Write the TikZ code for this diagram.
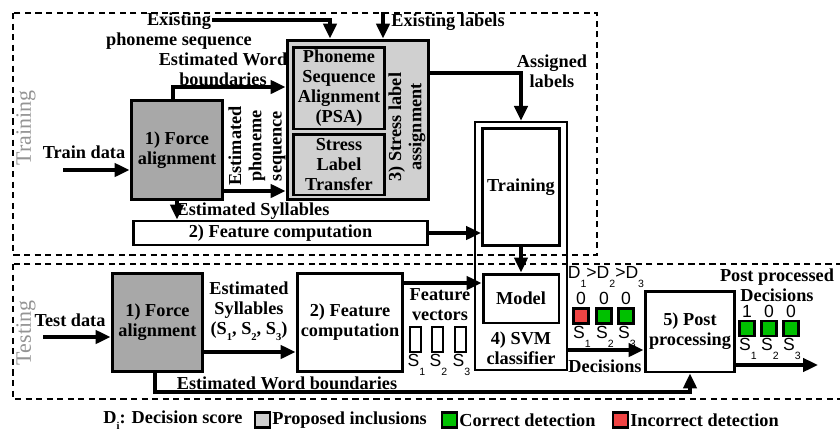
\documentclass[tikz,border=0pt]{standalone}
\usepackage{fontspec}
\setmainfont{Liberation Serif}
\newfontfamily\lsans{Liberation Sans}
\usetikzlibrary{positioning,arrows.meta}
\definecolor{forceGray}{HTML}{A8A8A8}
\definecolor{stressGray}{HTML}{D0D0D0}
\definecolor{okGreen}{HTML}{00C000}
\definecolor{badRed}{HTML}{F04444}
\newcommand{\lowsub}[2]{#1\raisebox{-0.7ex}{\fontsize{6}{6}\selectfont #2}}
\newcommand{\sanssub}[2]{{\lsans\mdseries #1\raisebox{-0.9ex}{\fontsize{6}{6}\selectfont #2}}}

\begin{document}
\begin{tikzpicture}[
    x=0.02cm, y=-0.02cm,
    every node/.style={font=\bfseries\fontsize{10.4}{11.5}\selectfont, inner sep=0pt},
    blockStyle/.style={draw, line width=1.7pt, align=center},
    arrowLine/.style={-{Triangle[length=8.5pt,width=7.5pt]}, line width=2.4pt},
    regionDashed/.style={line width=1.4pt, dash pattern=on 3.5pt off 2.5pt},
    regionLabel/.style={rotate=90, font=\fontsize{12.5}{13}\selectfont, text=black!42},
    vectorBox/.style={draw, line width=1.3pt, minimum width=0.22cm, minimum height=0.5cm},
    markBox/.style={draw, line width=1.3pt, minimum size=0.3cm},
    sansNum/.style={font=\lsans\fontsize{10}{10}\selectfont}
]
    \useasboundingbox (0,0) rectangle (840,433);

    % Regioni tratteggiate
    \draw[regionDashed] (13,13) rectangle (597,255);
    \draw[regionDashed] (13,264) rectangle (846,399);
    \node[regionLabel] (trainTag) at (26,128) {Training};
    \node[regionLabel] (testTag) at (26,333) {Testing};

    % Ramo di training
    \node (trainText) at (84,152) {Train data};
    \coordinate (trainIn) at (63,170);
    \node[blockStyle, fill=forceGray, minimum width=1.84cm, minimum height=2cm] (faTrain) at (177,150) {1) Force\\alignment};
    \node[blockStyle, fill=stressGray, minimum width=2.84cm, minimum height=3.2cm] (stressBox) at (358,120) {};
    \node[blockStyle, fill=stressGray, minimum width=1.84cm, minimum height=1.64cm] (psaBox) at (339,88) {Phoneme\\Sequence\\Alignment\\(PSA)};
    \node[blockStyle, fill=stressGray, minimum width=1.84cm, minimum height=1.22cm] (transferBox) at (339,164.5) {Stress\\Label\\Transfer};
    \node[rotate=90, align=center] (stressText) at (407,127) {3) Stress label\\assignment};
    \node[align=center] (wordText) at (223,69) {Estimated Word\\boundaries};
    \node[rotate=90, align=center] (phonText) at (257,146) {Estimated\\phoneme\\sequence};
    \node[align=center] (existPhon) at (179,31) {Existing\\phoneme sequence};
    \coordinate (existPhonIn) at (212,20);
    \coordinate (existPhonTurn) at (330,20);
    \coordinate (existLabIn) at (383,12);
    \node (existLab) at (448,22) {Existing labels};
    \node[align=center] (assignText) at (552,71) {Assigned\\labels};
    \coordinate (wordTurn) at (173,87);
    \node[blockStyle, minimum width=5.9cm, minimum height=0.48cm] (featTrain) at (280.5,233) {2) Feature computation};
    \node (syllText) at (253,211) {Estimated Syllables};

    % Classificatore SVM
    \node[blockStyle, line width=1.4pt, minimum width=1.84cm, minimum height=4.96cm] (svmBox) at (521,246) {};
    \node[blockStyle, minimum width=1.54cm, minimum height=2.36cm] (trainBox) at (521,187) {Training};
    \node[blockStyle, minimum width=1.52cm, minimum height=0.98cm] (modelBox) at (521,298.5) {Model};
    \node[align=center] (svmText) at (521,348) {4) SVM\\classifier};

    % Ramo di testing
    \node (testText) at (70,320) {Test data};
    \coordinate (testIn) at (43,337);
    \node[blockStyle, fill=forceGray, minimum width=1.82cm, minimum height=1.98cm] (faTest) at (157.5,322.5) {1) Force\\alignment};
    \node[align=center] (syllTest) at (249,311) {Estimated\\Syllables\\(\lowsub{S}{1}, \lowsub{S}{2}, \lowsub{S}{3})};
    \node[blockStyle, minimum width=2.12cm, minimum height=1.98cm] (featTest) at (350,322.5) {2) Feature\\computation};
    \node[align=center] (vecText) at (440,305) {Feature\\vectors};
    \foreach \vx [count=\k] in {415.5,437.5,460.5} {
        \node[vectorBox] (vec\k) at (\vx,339.5) {};
        \node[sansNum] (vecLab\k) at (\vx+1,365) {\sanssub{S}{\k}};
    }
    \node[sansNum] (orderText) at (606,277) {\sanssub{D}{1}>\sanssub{D}{2}>\sanssub{D}{3}};
    \foreach \dx/\dv/\dc [count=\k] in {581/0/badRed,604/0/okGreen,626/0/okGreen} {
        \node[sansNum] (decVal\k) at (\dx,298) {\dv};
        \node[markBox, fill=\dc] (decBox\k) at (\dx,316) {};
        \node[sansNum] (decLab\k) at (\dx+1,337) {\sanssub{S}{\k}};
    }
    \node (decText) at (605,366) {Decisions};
    \node[blockStyle, minimum width=1.8cm, minimum height=1.62cm] (postBox) at (690,331.5) {5) Post\\processing};
    \node[align=center] (postText) at (777,285) {Post processed\\Decisions};
    \foreach \px/\pv [count=\k] in {747/1,769/0,791/0} {
        \node[sansNum] (postVal\k) at (\px,311) {\pv};
        \node[markBox, fill=okGreen] (postBox\k) at (\px,328.5) {};
        \node[sansNum] (postLab\k) at (\px+1,349) {\sanssub{S}{\k}};
    }
    \coordinate (postOut) at (818,365);
    \node (wordTest) at (287,383) {Estimated Word boundaries};
    \coordinate (wordTurnTest) at (155,392);

    % Collegamenti
    \draw[arrowLine] (trainIn) -- (trainIn -| faTrain.west);
    \draw[arrowLine] (faTrain.north -| wordTurn) -- (wordTurn) -- (wordTurn -| stressBox.west);
    \draw[arrowLine] (faTrain.east |- 0,191) -- (stressBox.west |- 0,191);
    \draw[arrowLine] (existPhonIn) -- (existPhonTurn) -- (existPhonTurn |- stressBox.north);
    \draw[arrowLine] (existLabIn) -- (existLabIn |- stressBox.north);
    \draw[arrowLine] (stressBox.east |- 0,73) -| (svmBox.north);
    \draw[arrowLine] (faTrain.south) -- (faTrain.south |- featTrain.north);
    \draw[arrowLine] (featTrain.east) -- (featTrain.east -| trainBox.west);
    \draw[arrowLine] (trainBox.south) -- (modelBox.north);
    \draw[arrowLine] (testIn) -- (testIn -| faTest.west);
    \draw[arrowLine] (faTest.east |- 0,352) -- (featTest.west |- 0,352);
    \draw[arrowLine] (featTest.east |- 0,283) -- (modelBox.west |- 0,283);
    \draw[arrowLine] (svmBox.east |- 0,350) -- (postBox.west |- 0,350);
    \draw[arrowLine] (postBox.east |- postOut) -- (postOut);
    \draw[arrowLine] (faTest.south -| wordTurnTest) -- (wordTurnTest) -| (postBox.south);

    % Legenda
    \node (legD) at (173,420) {\lowsub{D}{i}: Decision score};
    \node[markBox, fill=stressGray] (legGray) at (262.5,420) {};
    \node[anchor=west] (legGrayText) at (272,420) {Proposed inclusions};
    \node[markBox, fill=okGreen] (legGreen) at (449.5,420) {};
    \node[anchor=west] (legGreenText) at (459,420) {Correct detection};
    \node[markBox, fill=badRed] (legRed) at (620.5,420) {};
    \node[anchor=west] (legRedText) at (630,420) {Incorrect detection};
\end{tikzpicture}
\end{document}
